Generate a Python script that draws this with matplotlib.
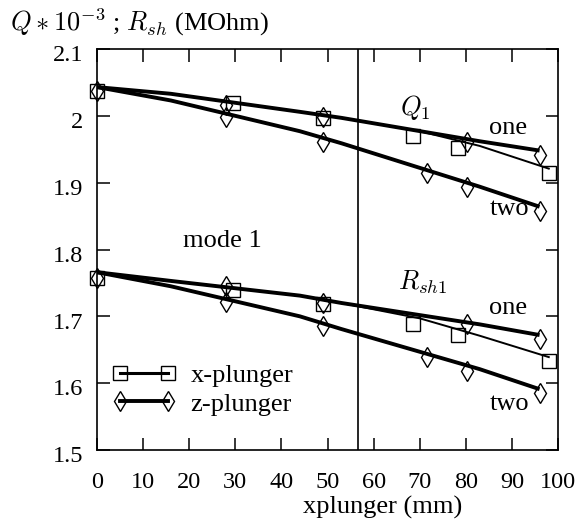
import matplotlib
matplotlib.use("Agg")
import matplotlib.pyplot as plt
import matplotlib.transforms as mtrans
from matplotlib.lines import Line2D
from matplotlib.legend_handler import HandlerLine2D

plt.rcParams['font.family'] = ['Liberation Serif', 'DejaVu Serif']
plt.rcParams['mathtext.fontset'] = 'cm'

# measured points, x-plunger (squares)
xp_x = [0, 29.5, 49, 68.5, 78.3, 98]
q_xp = [2.037, 2.019, 1.997, 1.970, 1.952, 1.915]
r_xp = [1.758, 1.740, 1.718, 1.688, 1.672, 1.633]

# measured points, z-plunger (diamonds)
zp_x = [0, 28, 28, 49, 49, 71.6, 80.3, 80.3, 96, 96]
q_zp = [2.037, 2.016, 1.998, 1.998, 1.961, 1.915, 1.961, 1.894, 1.942, 1.857]
r_zp = [1.758, 1.745, 1.721, 1.720, 1.685, 1.639, 1.688, 1.618, 1.666, 1.585]

# fitted curves
fit_x = [0, 16, 44, 53, 83, 96]
q_one = [2.043, 2.033, 2.006, 1.997, 1.962, 1.948]
q_two = [2.043, 2.023, 1.977, 1.959, 1.894, 1.864]
r_one = [1.766, 1.753, 1.731, 1.720, 1.688, 1.672]
r_two = [1.766, 1.745, 1.700, 1.681, 1.621, 1.591]

fitx_x = [0, 16, 44, 53, 70, 83, 98]
q_xfit = [2.043, 2.033, 2.006, 1.997, 1.977, 1.955, 1.921]
r_xfit = [1.766, 1.753, 1.731, 1.720, 1.697, 1.671, 1.639]

x_mode = 56.6
yticks = [1.5, 1.6, 1.7, 1.8, 1.9, 2.0, 2.1]
ylabels = ['1.5', '1.6', '1.7', '1.8', '1.9', '2', '2.1']

fs = 19
tfs = 17.5
fig = plt.figure(figsize=(5.88, 5.25), dpi=100)
ax = fig.add_axes([97/588, 1-450/525, 461/588, 401/525])

thick = 2.8
thin = 1.4
ms = 10.5
mk = dict(mfc='none', mec='black', mew=1.0, ls='none', clip_on=False)

for xs, one, two in [(fit_x, q_one, q_two), (fit_x, r_one, r_two)]:
    ax.plot(xs, one, color='black', lw=thick, solid_capstyle='butt')
    ax.plot(xs, two, color='black', lw=thick, solid_capstyle='butt')
ax.plot(fitx_x, q_xfit, color='black', lw=thin)
ax.plot(fitx_x, r_xfit, color='black', lw=thin)

ax.plot(xp_x, q_xp, marker='s', ms=ms, **mk)
ax.plot(xp_x, r_xp, marker='s', ms=ms, **mk)
ax.plot(zp_x, q_zp, marker='d', ms=ms, **mk)
ax.plot(zp_x, r_zp, marker='d', ms=ms, **mk)

ax.axvline(x_mode, color='black', lw=1.2)

ax.text(69, 2.013, '$Q_1$', fontsize=fs, ha='center', va='center')
ax.text(89.2, 1.982, 'one', fontsize=fs, ha='center', va='center')
ax.text(89.4, 1.860, 'two', fontsize=fs, ha='center', va='center')
ax.text(27.1, 1.813, 'mode 1', fontsize=fs, ha='center', va='center')
ax.text(70.7, 1.751, '$R_{sh1}$', fontsize=fs, ha='center', va='center')
ax.text(89.2, 1.712, 'one', fontsize=fs, ha='center', va='center')
ax.text(89.4, 1.569, 'two', fontsize=fs, ha='center', va='center')

ax.set_xlim(0, 100)
ax.set_ylim(1.5, 2.1)
ax.set_xticks(range(0, 101, 10))
ax.set_yticks(yticks)
ax.set_yticklabels(ylabels)
ax.tick_params(direction='in', length=9, width=1.1, top=True, right=True,
               labelsize=tfs)
ax.tick_params(axis='x', pad=16)
ax.tick_params(axis='y', pad=10)
shift = mtrans.ScaledTranslation(0, -3/72, fig.dpi_scale_trans)
for lab in ax.get_yticklabels():
    lab.set_transform(lab.get_transform() + shift)
for s in ax.spines.values():
    s.set_linewidth(1.2)

ax.set_xlabel('xplunger (mm)', fontsize=fs)
ax.xaxis.set_label_coords(0.62, -0.115)
fig.text(10/588, 1-22/525, '$Q * 10^{-3}$ ; $R_{sh}$ (MOhm)', fontsize=fs,
         ha='left', va='center')

h_x = Line2D([], [], color='black', lw=2.2, marker='s', ms=ms, mfc='none',
             mec='black', mew=1.0)
h_z = Line2D([], [], color='black', lw=thick, marker='d', ms=ms, mfc='none',
             mec='black', mew=1.0)
ax.legend([h_x, h_z], ['x-plunger', 'z-plunger'], loc='center left',
          bbox_to_anchor=(0.05, 0.15), frameon=False, fontsize=fs,
          numpoints=2, handlelength=1.8, handletextpad=0.87,
          labelspacing=0.18, borderpad=0, borderaxespad=0,
          handler_map={Line2D: HandlerLine2D(marker_pad=0)})

fig.savefig('out.png', dpi=100)
